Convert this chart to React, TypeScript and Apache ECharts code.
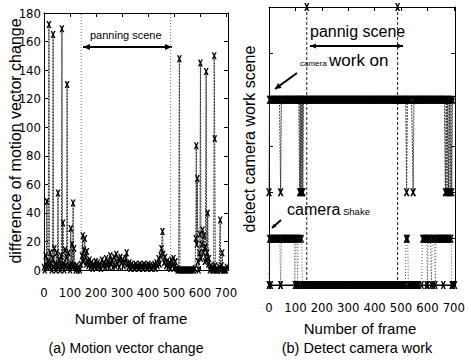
import { useEffect, useRef } from "react";
import * as echarts from "echarts";

// ---------- data ----------
// (a) motion vector change: [frame, difference]
const motionChange: [number, number][] = [
  [0,2],[3,0],[6,10],[9,3],[11,48],[13,2],[16,6],[19,172],[21,2],[24,12],[27,4],[30,0],[33,8],[35,165],[37,2],[40,15],[43,4],[46,0],[49,12],[51,3],[54,54],[56,2],[59,7],[62,0],[65,10],[67,3],[69,169],[71,2],[73,33],[75,4],[78,0],[81,14],[84,3],[87,9],[89,130],[91,2],[94,12],[97,3],[100,0],[103,29],[105,4],[108,18],[110,2],[112,47],[114,3],[116,15],[119,2],[122,0],[126,3],[130,0],[134,2],[138,0],
  [142,4],[146,10],[149,24],[151,6],[154,14],[157,22],[159,9],[162,4],[165,13],[168,6],[171,3],[175,7],[179,2],[183,5],[187,1],[191,4],[195,2],[199,6],[203,3],[207,5],[211,2],[215,4],[219,1],[223,7],[227,3],[231,5],[235,2],[239,8],[243,3],[247,6],[251,2],[255,10],[258,4],[262,7],[266,2],[270,9],[274,3],[278,11],[282,4],[286,8],[290,2],[294,9],[298,5],[302,7],[306,3],[310,5],[314,8],[318,12],[321,4],[325,2],[329,5],[333,1],[337,4],[341,2],[345,3],[349,1],[353,4],[357,2],[361,3],[365,1],[369,4],[373,2],[377,3],[381,1],[385,4],[389,2],[393,3],[397,1],[401,4],[405,2],[409,3],[413,1],[417,3],[421,2],[425,4],[429,1],[433,5],[437,3],[441,8],[445,4],[449,10],[452,15],[456,27],[459,11],[462,5],[466,9],[470,3],[474,6],[478,2],[482,5],[486,1],[490,7],[494,3],[498,8],[502,2],[506,6],[510,1],
  [514,0],[518,0],[521,148],[523,0],[527,0],[532,0],[537,0],[542,0],[547,0],[552,0],[557,0],[562,0],[567,0],[572,0],[577,0],[581,1],[584,22],[586,87],[588,18],[590,64],[592,6],[595,0],[598,12],[600,25],[602,145],[604,8],[607,18],[610,28],[613,12],[616,24],[619,6],[621,16],[624,139],[626,7],[628,12],[630,40],[632,4],[635,8],[638,0],[642,3],[646,0],[650,2],[653,0],[655,150],[657,92],[659,3],[662,0],[666,0],[670,0],[674,2],[678,35],[680,0],[683,3],[686,12],[688,0],[692,0],[696,0],[700,0],[704,2],
];

// (b) detect camera work: levels 4 = camera work on, 2 = off, 1 = shake, 0 = static
const workScene: [number, number][] = [
  [0,2],[2,4],[6,4],[10,4],[15,4],[20,4],[25,4],[30,4],[35,4],[40,4],[44,2],[47,4],[51,4],[56,4],[61,4],[66,4],[71,4],[76,4],[81,4],[86,4],[91,4],[96,4],[101,4],[106,4],[110,4],[113,4],[116,2],[118,4],[120,2],[122,4],[124,2],[126,4],[128,2],[131,4],[135,4],[140,4],[145,4],[150,4],[155,4],[160,4],[165,4],[170,4],[175,4],[180,4],[185,4],[190,4],[195,4],[200,4],[205,4],[210,4],[215,4],[220,4],[225,4],[230,4],[235,4],[240,4],[245,4],[250,4],[255,4],[260,4],[265,4],[270,4],[275,4],[280,4],[285,4],[290,4],[295,4],[300,4],[305,4],[310,4],[315,4],[320,4],[325,4],[330,4],[335,4],[340,4],[345,4],[350,4],[355,4],[360,4],[365,4],[370,4],[375,4],[380,4],[385,4],[390,4],[395,4],[400,4],[405,4],[410,4],[415,4],[420,4],[425,4],[430,4],[435,4],[440,4],[445,4],[450,4],[455,4],[460,4],[465,4],[470,4],[475,4],[480,4],[485,4],[490,4],[495,4],[500,4],[505,4],[510,4],[514,4],[518,4],[521,2],[524,4],[528,4],[532,4],[536,4],[540,4],[546,2],[549,4],[553,4],[557,4],[561,4],[566,4],[571,4],[576,4],[581,4],[586,4],[591,4],[596,4],[601,4],[606,4],[611,4],[616,4],[621,4],[626,4],[631,4],[636,4],[641,4],[646,4],[651,4],[656,4],[660,4],[664,4],[668,2],[671,4],[674,2],[677,4],[680,2],[683,4],[686,2],[689,4],[692,2],[695,4],
];
const shakeEarly: [number, number][] = [
  [0,0],[1,1],[5,1],[9,1],[13,1],[17,1],[21,1],[25,1],[29,1],[33,1],[37,1],[41,1],[44,0],[47,1],[51,1],[55,1],[59,1],[63,1],[67,1],[71,1],[75,1],[79,1],[83,1],[87,1],[91,1],[95,1],[98,0],[101,1],[105,1],[108,0],[111,1],[114,1],[117,1],[124,1],[126,0],
];
const shakeMid: [number, number][] = [[516,0],[519,1],[522,1],[525,1],[528,0]];
const shakeLate: [number, number][] = [
  [578,0],[581,1],[584,1],[587,1],[590,1],[594,1],[598,1],[600,0],[603,1],[607,1],[611,1],[615,0],[618,1],[622,1],[626,1],[630,0],[633,1],[637,1],[641,1],[645,1],[649,1],[653,1],[657,1],[661,1],[665,1],[669,1],[673,1],[677,1],[681,1],[684,1],[690,1],[692,0],
];
const staticFrames: number[] = [
  0,7,44,103,112,121,126,131,136,141,146,151,156,161,166,171,176,181,186,191,196,201,206,211,216,221,226,231,236,241,246,251,256,261,266,271,276,281,286,291,296,301,306,311,316,321,326,331,336,341,346,351,356,361,366,371,376,381,386,391,396,401,406,411,416,421,426,431,436,441,446,451,456,461,466,471,476,481,486,491,496,501,506,511,516,531,535,539,543,547,551,555,559,563,567,597,622,660,696,704,
];
const panningStart = 143;
const panningEnd = 487;
const motionMax = 180;
const levelMax = 6;

const xTitle = "Number of frame";
const captionA = "(a) Motion vector change";
const captionB = "(b) Detect camera work";
const yTitleA = "difference of motion vector change";
const yTitleB = "detect camera work scene";

// ---------- styling ----------
const X_SYMBOL = "path://M0,0L3,0L5,3L7,0L10,0L6.5,5L10,10L7,10L5,7L3,10L0,10L3.5,5Z";
const NUM_FONT = "'Liberation Sans Narrow', 'DejaVu Sans Condensed', 'Liberation Sans', sans-serif";
const TXT_FONT = "'Liberation Sans', Arial, Helvetica, sans-serif";

function arrow(x1: number, y1: number, x2: number, y2: number, both: boolean, lw: number, hl: number, hw: number) {
  const dx = x2 - x1, dy = y2 - y1;
  const L = Math.hypot(dx, dy);
  const ux = dx / L, uy = dy / L;
  const nx = -uy, ny = ux;
  const head = (ex: number, ey: number, sx: number, sy: number) => {
    const bx = ex - sx * hl, by = ey - sy * hl;
    return {
      type: "polygon",
      shape: { points: [[ex, ey], [bx + nx * hw, by + ny * hw], [bx - nx * hw, by - ny * hw]] },
      style: { fill: "#000" },
    };
  };
  const els: any[] = [
    { type: "line", shape: { x1, y1, x2, y2 }, style: { stroke: "#000", lineWidth: lw } },
    head(x2, y2, ux, uy),
  ];
  if (both) els.push(head(x1, y1, -ux, -uy));
  return els;
}

function xAxisDef(grid: number, max: number, top: boolean, margin: number) {
  return {
    type: "value",
    gridIndex: grid,
    position: top ? "top" : "bottom",
    min: 0,
    max,
    interval: 100,
    axisLine: { show: true, onZero: false, lineStyle: { color: "#000", width: 1 } },
    axisTick: { show: true, inside: true, length: 4, lineStyle: { color: "#000" } },
    axisLabel: {
      show: !top,
      margin,
      showMaxLabel: false,
      color: "#000",
      fontFamily: NUM_FONT,
      fontSize: 13,
      formatter: (v: number) => (v % 100 === 0 ? String(v) : ""),
    },
    splitLine: { show: false },
  };
}

function yAxisDef(grid: number, max: number, interval: number, right: boolean, labels: boolean) {
  return {
    type: "value",
    gridIndex: grid,
    position: right ? "right" : "left",
    min: 0,
    max,
    interval,
    axisLine: { show: true, onZero: false, lineStyle: { color: "#000", width: 1 } },
    axisTick: { show: true, inside: true, length: 4, lineStyle: { color: "#000" } },
    axisLabel: { show: labels, margin: 3, color: "#000", fontFamily: NUM_FONT, fontSize: 13 },
    splitLine: { show: false },
  };
}

export default function App() {
  const ref = useRef<HTMLDivElement>(null);
  useEffect(() => {
    document.body.style.margin = "0";
    const chart = echarts.init(ref.current!, null, { renderer: "svg" });
    const text = (t: string, x: number, y: number, size: number, align = "center", vAlign = "middle", rotation = 0) => ({
      type: "text",
      x,
      y,
      rotation,
      style: { text: t, fill: "#000", font: `${size}px ${TXT_FONT}`, align, verticalAlign: vAlign },
    });
    const option: any = {
      animation: false,
      backgroundColor: "#fff",
      grid: [
        { left: 44, top: 13, width: 184, height: 257 },
        { left: 269, top: 7, width: 193, height: 278 },
      ],
      xAxis: [
        xAxisDef(0, 708, false, 16),
        xAxisDef(0, 708, true, 0),
        xAxisDef(1, 705, false, 16),
        xAxisDef(1, 705, true, 0),
      ],
      yAxis: [
        yAxisDef(0, motionMax, 20, false, true),
        yAxisDef(0, motionMax, 20, true, false),
        yAxisDef(1, levelMax, 1, false, false),
        yAxisDef(1, levelMax, 1, true, false),
      ],
      series: [
        {
          type: "line", xAxisIndex: 0, yAxisIndex: 0, symbol: "none", silent: true,
          data: [[panningStart, 0], [panningStart, motionMax]],
          lineStyle: { color: "#777", width: 1, type: [1, 2] },
        },
        {
          type: "line", xAxisIndex: 0, yAxisIndex: 0, symbol: "none", silent: true,
          data: [[panningEnd, 0], [panningEnd, motionMax]],
          lineStyle: { color: "#777", width: 1, type: [1, 2] },
        },
        {
          type: "line", xAxisIndex: 0, yAxisIndex: 0, data: motionChange,
          symbol: X_SYMBOL, symbolSize: [5, 7], showAllSymbol: true,
          itemStyle: { color: "#000" },
          lineStyle: { color: "#333", width: 1, type: [2, 1] },
        },
        {
          type: "line", xAxisIndex: 2, yAxisIndex: 2,
          data: [{ value: [panningStart, levelMax] }, { value: [panningStart, 0], symbol: "none" }],
          symbol: X_SYMBOL, symbolSize: [5, 8], itemStyle: { color: "#000" },
          lineStyle: { color: "#222", width: 1, type: [3, 2] },
        },
        {
          type: "line", xAxisIndex: 2, yAxisIndex: 2,
          data: [{ value: [panningEnd, levelMax] }, { value: [panningEnd, 0], symbol: "none" }],
          symbol: X_SYMBOL, symbolSize: [5, 8], itemStyle: { color: "#000" },
          lineStyle: { color: "#222", width: 1, type: [3, 2] },
        },
        {
          type: "line", xAxisIndex: 2, yAxisIndex: 2, data: staticFrames.map((f) => [f, 0]),
          symbol: X_SYMBOL, symbolSize: [5, 8], showAllSymbol: true, itemStyle: { color: "#000" },
          lineStyle: { color: "#000", width: 1 },
        },
        ...[shakeEarly, shakeMid, shakeLate].map((d) => ({
          type: "line", xAxisIndex: 2, yAxisIndex: 2, data: d,
          symbol: X_SYMBOL, symbolSize: [5, 8], showAllSymbol: true, itemStyle: { color: "#000" },
          lineStyle: { color: "#555", width: 1, type: [1, 2] },
        })),
        {
          type: "line", xAxisIndex: 2, yAxisIndex: 2, data: workScene,
          symbol: X_SYMBOL, symbolSize: [6, 8], showAllSymbol: true, itemStyle: { color: "#000" },
          lineStyle: { color: "#333", width: 1, type: [2, 1] },
        },
      ],
      graphic: [
        text(yTitleA, 15, 141, 16, "center", "middle", Math.PI / 2),
        text(yTitleB, 249, 139, 16, "center", "middle", Math.PI / 2),
        text(xTitle, 131, 318, 15),
        text(xTitle, 360, 328, 15),
        text(captionA, 126, 348, 14),
        text(captionB, 357, 348, 14.5),
        text("panning scene", 90, 35, 11, "left"),
        ...arrow(83, 47, 172, 47, true, 2, 7, 3),
        text("pannig scene", 310, 31, 16, "left"),
        ...arrow(310, 46, 403, 46, true, 2, 6, 2.5),
        text("camera", 300, 67, 8, "left", "bottom"),
        text("work on", 329, 69, 17, "left", "bottom"),
        ...arrow(297, 73, 275, 89, false, 2, 6, 3),
        text("camera", 287, 217, 16, "left", "bottom"),
        text("Shake", 343, 216, 9.5, "left", "bottom"),
        ...arrow(281, 220, 272, 228, false, 2, 4, 2),
      ],
    };
    chart.setOption(option);
    return () => chart.dispose();
  }, []);
  return <div ref={ref} style={{ width: 468, height: 362 }} />;
}
